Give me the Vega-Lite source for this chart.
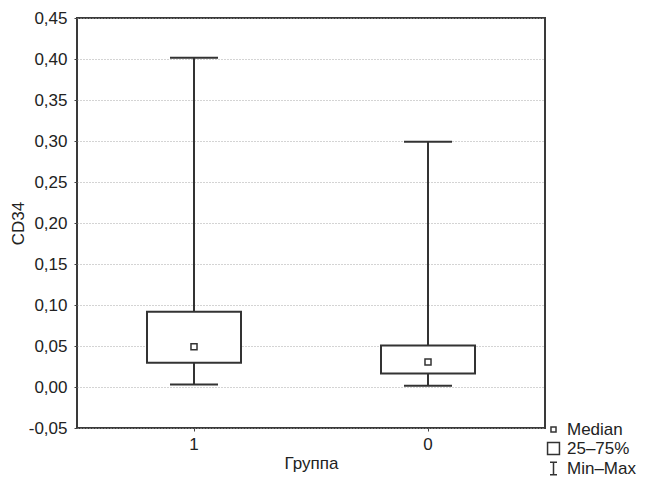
{
  "$schema": "https://vega.github.io/schema/vega-lite/v6.json",
  "width": 468,
  "height": 410,
  "autosize": "none",
  "padding": {"left": 77, "top": 18, "right": 110, "bottom": 50},
  "background": "white",
  "config": {
    "font": "Liberation Sans",
    "view": {"stroke": "#3a3a3a", "strokeWidth": 2},
    "axis": {"labelFont": "Liberation Sans", "titleFont": "Liberation Sans", "labelColor": "#222", "titleColor": "#222", "titleFontWeight": "normal", "labelFontSize": 17, "titleFontSize": 17}
  },
  "data": {
    "values": [
      {"group": "1", "min": 0.003, "q1": 0.0296, "median": 0.049, "q3": 0.0918, "max": 0.4016, "lg": "Median"},
      {"group": "0", "min": 0.0016, "q1": 0.0166, "median": 0.0305, "q3": 0.0507, "max": 0.299, "lg": "Median"}
    ]
  },
  "encoding": {
    "x": {
      "field": "group", "type": "nominal",
      "scale": {"domain": ["1", "0"], "paddingInner": 0, "paddingOuter": 0},
      "axis": {"title": "Группа", "labelAngle": 0, "domain": false, "tickSize": 3, "tickColor": "#444", "labelPadding": 5, "titlePadding": 3}
    }
  },
  "layer": [
    {
      "mark": {"type": "rule", "color": "#333", "strokeWidth": 2},
      "encoding": {
        "y": {
          "field": "min", "type": "quantitative",
          "scale": {"domain": [-0.05, 0.45], "nice": false, "zero": false},
          "axis": {
            "title": "CD34",
            "values": [-0.05, 0, 0.05, 0.1, 0.15, 0.2, 0.25, 0.3, 0.35, 0.4, 0.45],
            "labelExpr": "replace(replace(format(datum.value, '.2f'), '.', ','), '\u2212', '-')",
            "domain": false, "tickSize": 3, "tickColor": "#444", "labelPadding": 7, "titlePadding": 1,
            "grid": true, "gridColor": "#a8a8a8", "gridDash": [1, 2], "gridWidth": 1
          }
        },
        "y2": {"field": "max"}
      }
    },
    {
      "mark": {"type": "tick", "color": "#333", "opacity": 1, "thickness": 2, "size": 48, "orient": "horizontal"},
      "encoding": {"y": {"field": "min", "type": "quantitative"}}
    },
    {
      "mark": {"type": "tick", "color": "#333", "opacity": 1, "thickness": 2, "size": 48, "orient": "horizontal"},
      "encoding": {"y": {"field": "max", "type": "quantitative"}}
    },
    {
      "mark": {"type": "bar", "fill": "white", "stroke": "#333", "strokeWidth": 2, "size": 94},
      "encoding": {
        "y": {"field": "q1", "type": "quantitative"},
        "y2": {"field": "q3"}
      }
    },
    {
      "mark": {"type": "point", "filled": false, "color": "#333", "strokeWidth": 1.5, "size": 280, "opacity": 1},
      "encoding": {
        "y": {"field": "median", "type": "quantitative"},
        "shape": {
          "field": "lg", "type": "nominal",
          "scale": {
            "domain": ["Median", "25–75%", "Min–Max"],
            "range": ["M-0.36,-0.36H0.36V0.36H-0.36Z", "M-0.85,-0.85H0.85V0.85H-0.85Z", "M-0.5,-0.9H0.5M0,-0.9V0.9M-0.5,0.9H0.5"]
          },
          "legend": {
            "title": null, "orient": "none", "legendX": 468, "legendY": 403,
            "labelFontSize": 17, "labelFont": "Liberation Sans", "labelColor": "#222",
            "symbolSize": 196, "symbolStrokeWidth": 1.5, "symbolStrokeColor": "#333", "symbolFillColor": "transparent",
            "labelOffset": 5, "rowPadding": 1, "padding": 0
          }
        }
      }
    }
  ]
}
